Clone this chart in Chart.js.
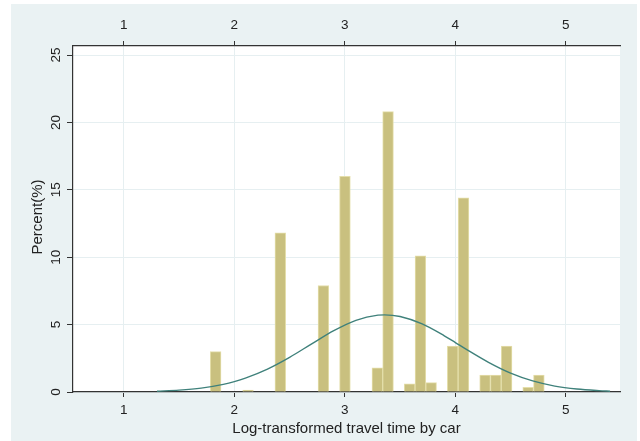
<!DOCTYPE html>
<html>
<head>
<meta charset="utf-8">
<script src="https://cdn.jsdelivr.net/npm/chart.js@4.4.1/dist/chart.umd.min.js"></script>
<style>
  html, body { margin: 0; padding: 0; background: #ffffff; }
  #wrap { width: 640px; height: 441px; }
</style>
</head>
<body>
<div id="wrap"><canvas id="c" width="640" height="441"></canvas></div>
<script>
// Histogram bins (bin centres on the log scale) and their percentages
const binCenters = [1.831, 2.124, 2.416, 2.806, 3.001, 3.294, 3.391, 3.586, 3.684, 3.781, 3.976, 4.074, 4.269, 4.366, 4.464, 4.659, 4.756];
const binPercent = [3.0, 0.15, 11.8, 7.9, 16.0, 1.8, 20.8, 0.6, 10.1, 0.7, 3.4, 14.4, 1.25, 1.25, 3.4, 0.35, 1.25];

// Overlaid normal density curve
const curveX = [1.3, 1.5, 1.7, 1.9, 2.0, 2.1, 2.3, 2.5, 2.7, 2.9, 3.1, 3.3, 3.36, 3.5, 3.7, 3.9, 4.0, 4.1, 4.3, 4.5, 4.7, 4.9, 5.1, 5.3, 5.4];
const curveY = [0.06, 0.14, 0.29, 0.57, 0.77, 1.03, 1.70, 2.57, 3.57, 4.55, 5.32, 5.70, 5.72, 5.60, 5.05, 4.17, 3.67, 3.16, 2.20, 1.40, 0.82, 0.44, 0.22, 0.10, 0.06];

// Axis ticks
const xTicks = [1, 2, 3, 4, 5];
const yTicks = [0, 5, 10, 15, 20, 25];

const xTitle = 'Log-transformed travel time by car';
const yTitle = 'Percent(%)';

const FONT = '"Liberation Sans", Arial, sans-serif';
const TEXT = '#222222';

const bgPlugin = {
  id: 'bg',
  beforeDraw(chart) {
    const ctx = chart.ctx, a = chart.chartArea;
    ctx.save();
    ctx.fillStyle = '#ffffff';
    ctx.fillRect(0, 0, chart.width, chart.height);
    ctx.fillStyle = '#eaf2f3';
    ctx.fillRect(11, 4, 626, 437);
    ctx.fillStyle = '#ffffff';
    ctx.fillRect(a.left, a.top, a.right - a.left, a.bottom - a.top);
    ctx.restore();
  }
};

const yLabelPlugin = {
  id: 'ylabels',
  afterDraw(chart) {
    const ctx = chart.ctx, ys = chart.scales.y, a = chart.chartArea;
    ctx.save();
    ctx.fillStyle = TEXT;
    ctx.textAlign = 'center';
    ctx.textBaseline = 'middle';
    ctx.font = '13.5px ' + FONT;
    yTicks.forEach(v => {
      const py = ys.getPixelForValue(v);
      ctx.save();
      ctx.translate(56, py);
      ctx.rotate(-Math.PI / 2);
      ctx.fillText(String(v), 0, 0);
      ctx.restore();
    });
    ctx.font = '15px ' + FONT;
    ctx.save();
    ctx.translate(38, (a.top + a.bottom) / 2 - 2);
    ctx.rotate(-Math.PI / 2);
    ctx.fillText(yTitle, 0, 0);
    ctx.restore();
    ctx.restore();
  }
};

new Chart(document.getElementById('c'), {
  type: 'bar',
  data: {
    datasets: [
      {
        type: 'line',
        data: curveX.map((x, i) => ({ x: x, y: curveY[i] })),
        borderColor: '#3f817b',
        borderWidth: 1.4,
        pointRadius: 0,
        fill: false,
        cubicInterpolationMode: 'monotone',
        order: 1
      },
      {
        type: 'bar',
        data: binCenters.map((x, i) => ({ x: x, y: binPercent[i] })),
        backgroundColor: '#c9c07f',
        borderColor: '#e4deaa',
        borderWidth: 1,
        barPercentage: 1,
        categoryPercentage: 1,
        order: 2
      }
    ]
  },
  options: {
    responsive: false,
    animation: false,
    events: [],
    layout: { padding: { left: 0, right: 20, top: 0, bottom: 0 } },
    plugins: { legend: { display: false }, tooltip: { enabled: false } },
    scales: {
      x: {
        type: 'linear',
        position: 'bottom',
        min: 0.54,
        max: 5.49,
        offset: false,
        afterBuildTicks: s => { s.ticks = xTicks.map(v => ({ value: v })); },
        afterFit: s => { s.height = 49; },
        grid: { offset: false, color: '#e6eff1', lineWidth: 1, tickColor: '#333333', tickLength: 5, drawTicks: true },
        border: { display: true, color: '#333333', width: 1.2 },
        ticks: { color: TEXT, font: { family: FONT, size: 13.5 }, padding: 5, maxRotation: 0 },
        title: { display: true, text: xTitle, color: TEXT, font: { family: FONT, size: 15 }, padding: { top: 0, bottom: 3 } }
      },
      x2: {
        type: 'linear',
        position: 'top',
        min: 0.54,
        max: 5.49,
        offset: false,
        afterBuildTicks: s => { s.ticks = xTicks.map(v => ({ value: v })); },
        afterFit: s => { s.height = 46; },
        grid: { offset: false, drawOnChartArea: false, tickColor: '#333333', tickLength: 5 },
        border: { display: true, color: '#333333', width: 1.2 },
        ticks: { color: TEXT, font: { family: FONT, size: 13.5 }, padding: 8, maxRotation: 0 }
      },
      y: {
        type: 'linear',
        position: 'left',
        min: 0,
        max: 25.67,
        afterBuildTicks: s => { s.ticks = yTicks.map(v => ({ value: v })); },
        afterFit: s => { s.width = 73; },
        grid: { color: '#e6eff1', lineWidth: 1, tickColor: '#333333', tickLength: 6 },
        border: { display: true, color: '#333333', width: 1.2 },
        ticks: { display: false }
      }
    }
  },
  plugins: [bgPlugin, yLabelPlugin]
});
</script>
</body>
</html>
